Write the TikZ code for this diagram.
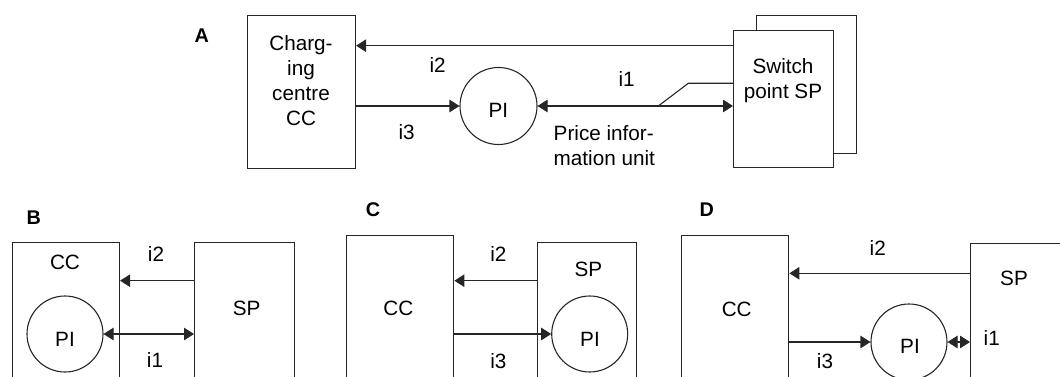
\documentclass[tikz,border=0pt]{standalone}
\usepackage{fontspec}
\setmainfont{Liberation Sans}
\usetikzlibrary{arrows.meta}
\begin{document}
\begin{tikzpicture}[x=1pt,y=-1pt,
 txt/.style={font=\fontsize{20.7}{25}\selectfont, inner sep=0pt, anchor=base},
 ttl/.style={font=\fontsize{19.8}{24}\selectfont\bfseries, inner sep=0pt, anchor=base},
 box/.style={draw=black!85, line width=1.1pt, inner sep=0pt, anchor=north west},
 circ/.style={draw=black!85, circle, line width=1.1pt, inner sep=0pt, minimum size=77pt},
 arr/.style={draw=black!85, line width=1.1pt, -{Triangle[length=10pt,width=12.5pt]}},
 darr/.style={draw=black!85, line width=1.1pt, {Triangle[length=10pt,width=12.5pt]}-{Triangle[length=10pt,width=12.5pt]}},
 ln/.style={draw=black!85, line width=1.1pt}]
\useasboundingbox (0,0) rectangle (1060,377);
\clip (0,0) rectangle (1060,377);
% ---------------- A ----------------
\node[ttl] (tA) at (201.7,42.7) {A};
\node[box, minimum width=108pt, minimum height=153pt] (ccA) at (247,15) {};
\node[box, minimum width=100pt, minimum height=138pt] (spAback) at (756,15) {};
\node[box, fill=white, minimum width=100pt, minimum height=137pt] (spA) at (733,30) {};
\node[circ] (piA) at (498.5,106) {};
\node[txt, anchor=north, align=center] (tccA) at (301,35) {Charg-\\ing\\centre\\CC};
\node[txt, anchor=north, align=center] (tspA) at (783,58.3) {Switch\\point SP};
\node[txt, anchor=north west, align=left] (tpiu) at (553.5,125) {Price infor-\\mation unit};
\node[txt] (tpiA) at (498.3,117.3) {PI};
\node[txt] (ti2A) at (437.7,72.7) {i2};
\node[txt] (ti3A) at (406.7,139.3) {i3};
\node[txt] (ti1A) at (626.7,86.7) {i1};
\coordinate (a2) at (0,45.7);
\draw[arr] (spA.west |- a2) -- (ccA.east |- a2);
\draw[arr] (ccA.east |- piA.center) -- (piA.west);
\draw[darr] (piA.east) -- (spA.west |- piA.center);
\coordinate (br) at (658.3,106);
\coordinate (bk) at (688.3,83.3);
\draw[ln] (br) -- (bk) -- (spA.west |- bk);
% ---------------- B ----------------
\node[ttl] (tB) at (33.7,224) {B};
\node[box, minimum width=107.3pt, minimum height=160pt] (ccB) at (11.7,242.3) {};
\node[box, minimum width=100pt, minimum height=160pt] (spB) at (194,242.3) {};
\node[circ, minimum size=76pt] (piB) at (65,334) {};
\node[txt] (tccB) at (65,269.3) {CC};
\node[txt] (tpiB) at (65,346) {PI};
\node[txt] (tspB) at (246.7,315) {SP};
\node[txt] (ti2B) at (156,261.7) {i2};
\node[txt] (ti1B) at (155,367.7) {i1};
\coordinate (b2) at (0,280.7);
\draw[arr] (spB.west |- b2) -- (ccB.east |- b2);
\draw[darr] (piB.east) -- (spB.west |- piB.center);
% ---------------- C ----------------
\node[ttl] (tC) at (373,216.7) {C};
\node[box, minimum width=107.3pt, minimum height=170pt] (ccC) at (346,235) {};
\node[box, minimum width=99pt, minimum height=160pt] (spC) at (536.7,242.3) {};
\node[circ, minimum size=76pt] (piC) at (589.7,334) {};
\node[txt] (tccC) at (398.3,315) {CC};
\node[txt] (tspC) at (588.3,276.7) {SP};
\node[txt] (tpiC) at (590,346) {PI};
\node[txt] (ti2C) at (498.3,261.7) {i2};
\node[txt] (ti3C) at (498.3,368.3) {i3};
\coordinate (c2) at (0,280.7);
\draw[arr] (spC.west |- c2) -- (ccC.east |- c2);
\draw[arr] (ccC.east |- piC.center) -- (piC.west);
% ---------------- D ----------------
\node[ttl] (tD) at (706.7,216.7) {D};
\node[box, minimum width=107.6pt, minimum height=170pt] (ccD) at (680.7,235) {};
\node[box, minimum width=120pt, minimum height=160pt] (spD) at (970,242.7) {};
\node[circ, minimum size=76pt] (piD) at (909,342) {};
\node[txt] (tccD) at (736.7,316) {CC};
\node[txt] (tspD) at (1014,285) {SP};
\node[txt] (tpiD) at (910,353.3) {PI};
\node[txt] (ti2D) at (877.7,255) {i2};
\node[txt] (ti3D) at (825,368.3) {i3};
\node[txt] (ti1D) at (991.7,345) {i1};
\coordinate (d2) at (0,273.3);
\draw[arr] (spD.west |- d2) -- (ccD.east |- d2);
\draw[arr] (ccD.east |- piD.center) -- (piD.west);
\draw[darr] (piD.east) -- (spD.west |- piD.center);
\end{tikzpicture}
\end{document}
